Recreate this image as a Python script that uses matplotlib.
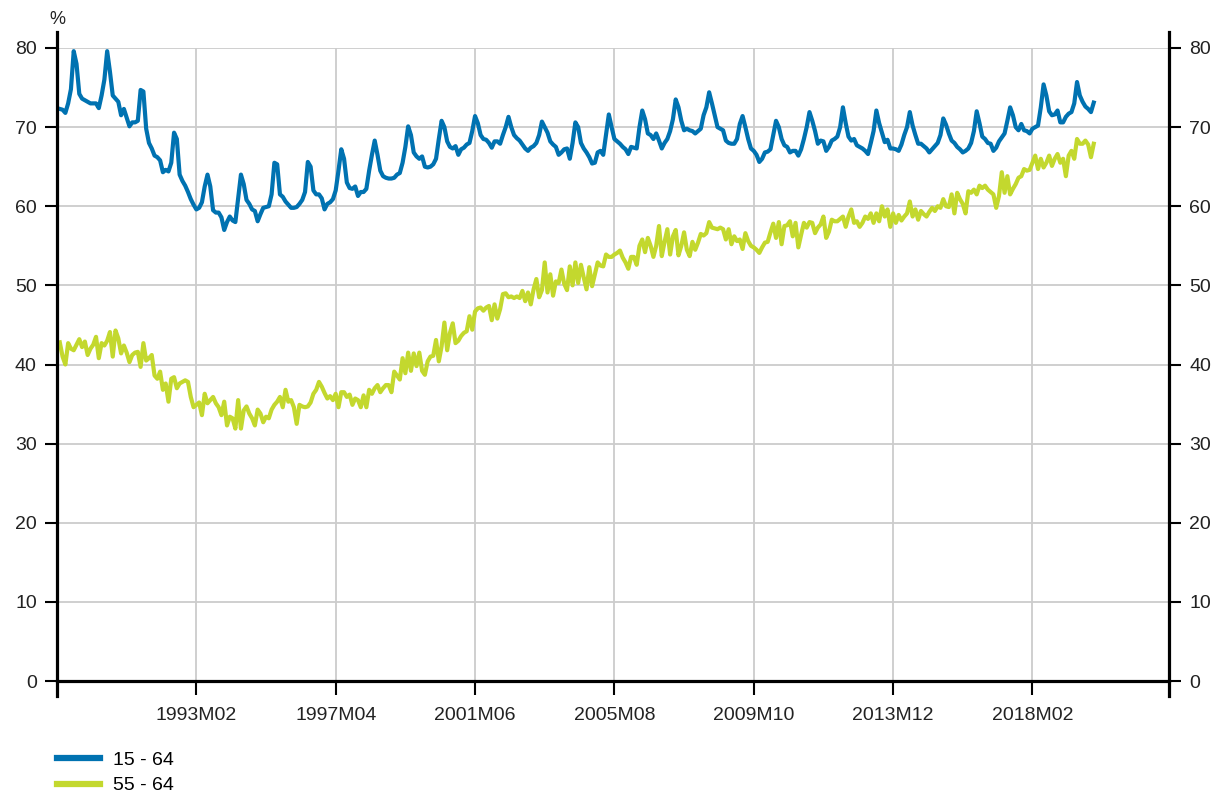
import numpy as np
import matplotlib.pyplot as plt

plt.rcParams['font.family'] = ['Liberation Sans', 'DejaVu Sans']

# monthly periods 1989M01 .. 2019M12
periods = ['%dM%02d' % (y, m) for y in range(1989, 2020) for m in range(1, 13)]

# employment rate, 15 - 64 (%), one row per year
rate_15_64 = [
    72.3, 72.2, 71.8, 73.0, 74.8, 79.6, 78.0, 74.2, 73.6, 73.4, 73.2, 73.0,  # 1989
    73.0, 73.0, 72.4, 74.0, 76.0, 79.6, 77.0, 74.0, 73.6, 73.2, 71.5, 72.3,  # 1990
    71.2, 70.1, 70.6, 70.6, 70.8, 74.7, 74.5, 69.8, 68.0, 67.3, 66.4, 66.2,  # 1991
    65.8, 64.3, 64.6, 64.4, 65.5, 69.3, 68.5, 64.0, 63.2, 62.6, 61.8, 60.9,  # 1992
    60.2, 59.6, 59.8, 60.5, 62.5, 64.0, 62.5, 59.5, 59.2, 59.2, 58.6, 57.0,  # 1993
    58.0, 58.7, 58.2, 58.0, 61.0, 64.0, 62.8, 60.8, 60.3, 59.6, 59.4, 58.1,  # 1994
    59.0, 59.8, 59.9, 60.0, 61.5, 65.5, 65.3, 61.5, 61.2, 60.6, 60.2, 59.8,  # 1995
    59.8, 59.9, 60.3, 60.8, 61.8, 65.6, 65.0, 62.0, 61.5, 61.5, 61.0, 59.6,  # 1996
    60.3, 60.5, 60.9, 62.0, 64.5, 67.2, 66.0, 63.0, 62.3, 62.2, 62.5, 61.3,  # 1997
    61.8, 61.8, 62.2, 64.5, 66.5, 68.3, 66.5, 64.5, 63.8, 63.6, 63.5, 63.5,  # 1998
    63.6, 64.0, 64.2, 65.5, 67.5, 70.1, 69.0, 66.8, 66.3, 66.0, 66.3, 65.0,  # 1999
    64.9, 65.0, 65.3, 66.0, 68.5, 70.8, 70.0, 68.2, 67.5, 67.3, 67.6, 66.5,  # 2000
    67.2, 67.4, 67.8, 68.0, 69.5, 71.4, 70.5, 69.0, 68.5, 68.4, 68.0, 67.4,  # 2001
    68.2, 68.2, 67.9, 69.0, 70.0, 71.3, 70.0, 69.0, 68.6, 68.3, 67.8, 67.3,  # 2002
    67.0, 67.4, 67.6, 68.0, 69.0, 70.7, 70.0, 69.3, 68.2, 67.8, 67.5, 66.5,  # 2003
    66.8, 67.2, 67.3, 66.0, 68.0, 70.6, 70.0, 68.0, 67.3, 66.8, 66.2, 65.4,  # 2004
    65.5, 66.8, 67.0, 66.5, 69.0, 71.6, 70.0, 68.5, 68.2, 67.9, 67.5, 67.2,  # 2005
    66.6, 67.5, 67.4, 67.3, 70.0, 72.1, 71.0, 69.2, 69.0, 68.5, 69.2, 68.3,  # 2006
    67.3, 68.0, 68.5, 69.5, 71.0, 73.5, 72.5, 70.8, 69.6, 69.8, 69.6, 69.5,  # 2007
    69.2, 69.5, 69.8, 71.5, 72.5, 74.4, 73.0, 71.5, 70.0, 69.8, 69.6, 68.3,  # 2008
    68.0, 67.9, 67.9, 68.5, 70.4, 71.4, 70.0, 68.5, 67.3, 67.0, 66.5, 65.6,  # 2009
    66.0, 66.8, 66.9, 67.2, 69.0, 70.8, 70.0, 68.5, 67.7, 67.5, 66.8, 67.0,  # 2010
    67.0, 66.4, 67.2, 68.5, 70.0, 71.9, 70.8, 69.5, 67.9, 68.3, 68.2, 67.0,  # 2011
    67.5, 68.3, 68.5, 68.8, 70.0, 72.5, 70.5, 68.8, 68.3, 68.5, 67.7, 67.5,  # 2012
    67.3, 67.0, 66.6, 68.0, 69.5, 72.1, 70.5, 69.3, 68.1, 68.4, 67.3, 67.3,  # 2013
    67.2, 67.0, 67.8, 69.0, 70.0, 71.9, 70.2, 69.0, 67.9, 67.9, 67.6, 67.3,  # 2014
    66.8, 67.2, 67.6, 68.0, 69.0, 71.1, 70.3, 69.2, 68.3, 68.0, 67.5, 67.2,  # 2015
    66.8, 67.0, 67.3, 68.0, 69.5, 72.0, 70.5, 68.8, 68.5, 68.0, 67.9, 67.0,  # 2016
    67.4, 68.2, 68.7, 69.2, 70.8, 72.5, 71.5, 70.0, 69.6, 70.4, 69.6, 69.5,  # 2017
    69.2, 69.8, 70.0, 70.2, 72.5, 75.4, 74.0, 72.0, 71.5, 71.6, 72.1, 70.6,  # 2018
    70.6, 71.3, 71.7, 71.9, 73.0, 75.7, 74.0, 73.2, 72.6, 72.3, 71.9, 73.1,  # 2019
]

# employment rate, 55 - 64 (%)
rate_55_64 = [
    42.8, 41.0, 40.0, 42.7, 42.0, 41.8, 42.5, 43.2, 42.2, 42.9, 41.2, 42.0,  # 1989
    42.5, 43.5, 40.8, 42.7, 42.4, 43.0, 44.1, 41.0, 44.3, 43.3, 41.4, 42.4,  # 1990
    41.5, 40.3, 41.2, 41.5, 41.6, 39.7, 42.7, 40.5, 40.8, 41.2, 38.6, 38.2,  # 1991
    39.1, 36.8, 37.6, 35.3, 38.2, 38.4, 37.0, 37.6, 37.8, 38.0, 37.8, 35.9,  # 1992
    34.6, 34.9, 35.2, 33.6, 36.3, 35.1, 35.5, 35.9, 35.1, 34.6, 33.6, 35.3,  # 1993
    32.3, 33.4, 33.2, 31.9, 35.5, 31.9, 34.2, 34.7, 33.8, 33.2, 32.3, 34.3,  # 1994
    33.8, 32.7, 33.4, 33.2, 34.3, 34.9, 35.3, 35.9, 34.6, 36.8, 35.3, 35.5,  # 1995
    34.6, 32.5, 34.9, 34.7, 34.6, 34.7, 35.2, 36.3, 36.8, 37.8, 37.2, 36.4,  # 1996
    35.7, 36.0, 35.5, 36.3, 34.6, 36.5, 36.5, 35.9, 36.2, 34.9, 35.7, 35.5,  # 1997
    34.6, 36.1, 34.6, 36.8, 36.3, 37.0, 37.4, 36.5, 37.0, 37.4, 37.4, 36.5,  # 1998
    39.1, 38.6, 38.1, 40.8, 38.9, 41.5, 39.2, 41.4, 39.8, 41.5, 39.2, 38.7,  # 1999
    40.4, 41.0, 41.1, 43.1, 40.4, 42.3, 45.3, 41.8, 44.0, 45.2, 42.7, 43.0,  # 2000
    43.6, 44.0, 44.2, 46.1, 44.4, 46.7, 47.1, 47.2, 46.8, 47.2, 47.4, 45.6,  # 2001
    47.6, 45.8, 47.0, 48.9, 49.0, 48.5, 48.6, 48.4, 48.6, 48.4, 49.3, 48.0,  # 2002
    49.1, 47.6, 49.5, 50.8, 48.5, 49.4, 52.9, 49.1, 51.4, 48.7, 50.5, 50.3,  # 2003
    52.0, 50.2, 49.4, 52.4, 50.0, 52.9, 50.3, 52.6, 51.0, 49.5, 52.3, 49.9,  # 2004
    51.4, 52.9, 52.5, 52.4, 53.9, 53.6, 53.6, 53.9, 54.1, 54.4, 53.5, 52.9,  # 2005
    52.1, 53.6, 53.6, 52.6, 55.0, 55.8, 54.2, 56.0, 55.0, 53.6, 55.0, 57.5,  # 2006
    53.7, 55.5, 57.1, 53.9, 56.2, 57.0, 53.8, 55.0, 56.7, 54.5, 53.7, 55.5,  # 2007
    54.5, 55.4, 56.5, 56.3, 56.6, 58.0, 57.3, 57.2, 57.1, 57.3, 57.1, 55.8,  # 2008
    57.1, 55.2, 56.2, 55.6, 55.8, 54.6, 56.6, 55.6, 55.0, 54.8, 54.5, 54.1,  # 2009
    54.8, 55.4, 55.5, 56.7, 57.8, 56.0, 58.0, 55.2, 57.5, 57.6, 58.1, 56.2,  # 2010
    57.9, 54.8, 56.4, 57.9, 57.3, 58.0, 57.9, 56.6, 57.3, 57.7, 58.7, 56.0,  # 2011
    56.8, 58.3, 58.1, 58.1, 58.4, 58.7, 57.4, 58.7, 59.6, 57.9, 58.1, 57.4,  # 2012
    57.9, 58.7, 58.4, 59.1, 57.9, 59.1, 58.1, 60.0, 58.7, 59.6, 57.4, 59.1,  # 2013
    57.9, 58.9, 58.2, 58.7, 59.1, 60.6, 58.7, 59.6, 58.3, 59.4, 59.0, 58.7,  # 2014
    59.3, 59.8, 59.4, 60.0, 59.8, 60.9, 60.0, 59.9, 61.5, 59.1, 61.7, 60.9,  # 2015
    60.3, 59.1, 61.9, 61.7, 62.1, 61.5, 62.6, 62.3, 62.6, 62.1, 61.8, 61.5,  # 2016
    59.8, 61.3, 64.3, 61.7, 63.8, 61.5, 62.2, 62.8, 63.6, 63.8, 64.7, 64.5,  # 2017
    64.6, 65.5, 66.4, 64.7, 66.0, 64.9, 65.5, 66.4, 65.1, 66.0, 66.6, 65.5,  # 2018
    66.0, 63.8, 66.4, 67.0, 66.0, 68.5, 67.9, 67.9, 68.3, 67.8, 66.2, 67.9,  # 2019
]

tick_labels = ['1993M02', '1997M04', '2001M06', '2005M08', '2009M10', '2013M12', '2018M02']
y_ticks = [0, 10, 20, 30, 40, 50, 60, 70, 80]

blue = '#0072b1'
lime = '#c3d82e'

x = np.arange(len(periods))
tick_pos = [periods.index(t) for t in tick_labels]

fig = plt.figure(figsize=(12.23, 7.96), dpi=100)
ax = fig.add_axes([57/1223, 1 - 681/796, (1169-57)/1223, (681-48)/796])

ax.plot(x, rate_15_64, color=blue, lw=3.0, label='15 - 64', solid_joinstyle='round')
ax.plot(x, rate_55_64, color=lime, lw=3.0, label='55 - 64', solid_joinstyle='round')

ax.set_xlim(-1, 398)
ax.set_ylim(0, 80)
ax.set_xticks(tick_pos)
ax.set_xticklabels(tick_labels)
ax.set_yticks(y_ticks)

ax.grid(True, color='#cccccc', lw=1.3)
ax.set_axisbelow(True)

for s in ['left', 'right', 'bottom']:
    ax.spines[s].set_linewidth(2.3)
    ax.spines[s].set_color('black')
ax.spines['top'].set_visible(False)
ax.spines['left'].set_bounds(-1.9, 82)
ax.spines['right'].set_bounds(-1.9, 82)

ax.tick_params(axis='x', direction='out', length=10, width=1.5, pad=9,
               labelsize=14, labelcolor='#222222')
ax.tick_params(axis='y', direction='out', length=8.5, width=1.5, pad=6,
               labelsize=14, labelcolor='#222222', right=True, labelright=True)

fig.text(57/1223, 1 - 20/796, '%', ha='center', va='center', fontsize=13, color='#222222')

leg = ax.legend(loc='upper left', bbox_to_anchor=(57/1223, 1 - 751/796),
                bbox_transform=fig.transFigure, frameon=False, fontsize=14,
                handlelength=2.2, handletextpad=0.7, labelspacing=0.42,
                borderaxespad=0, borderpad=0)
for line in leg.get_lines():
    line.set_linewidth(4.5)

fig.savefig('out.png', dpi=100)
